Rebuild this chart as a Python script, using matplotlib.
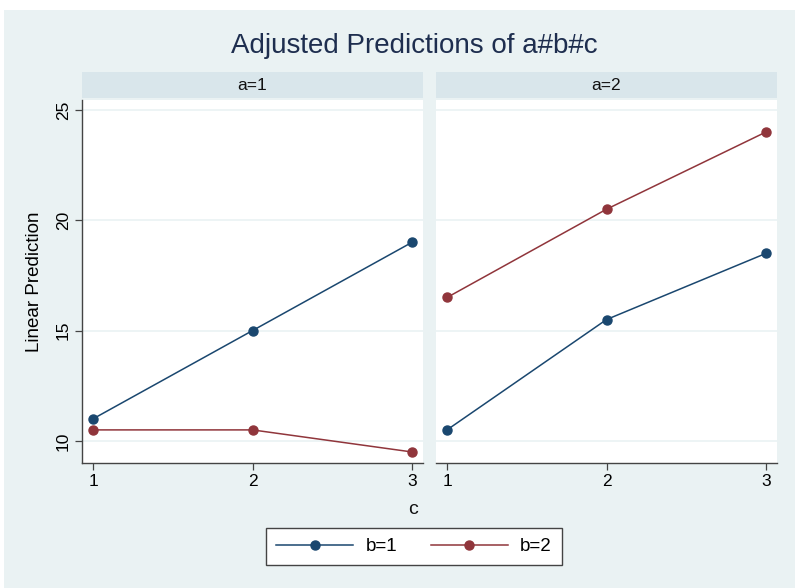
import matplotlib
matplotlib.use("Agg")
import matplotlib.pyplot as plt
from matplotlib.patches import Rectangle

plt.rcParams['font.family'] = ['Liberation Sans', 'DejaVu Sans']

c_vals = [1, 2, 3]
panels = ["a=1", "a=2"]
b1_a1 = [11.0, 15.0, 19.0]
b2_a1 = [10.5, 10.5, 9.5]
b1_a2 = [10.5, 15.5, 18.5]
b2_a2 = [16.5, 20.5, 24.0]
series_labels = ["b=1", "b=2"]
yticks = [10, 15, 20, 25]

navy = "#1a476f"
maroon = "#90353b"
bg = "#eaf2f3"
strip = "#d9e6eb"

W, H = 795, 588
fig = plt.figure(figsize=(W / 100, H / 100), dpi=100)
fig.patch.set_facecolor("white")
fig.patches.append(Rectangle((4 / W, 0), 1 - 4 / W, 1 - 10 / H, transform=fig.transFigure,
                             facecolor=bg, edgecolor="none", zorder=-10))

def fx(px):
    return px / W

def fy(py):
    return 1 - py / H

top, bottom = 100, 463
boxes = [(82, 423), (436, 777)]
data = [(b1_a1, b2_a1), (b1_a2, b2_a2)]
axes = []
for i, ((l, r), (s1, s2)) in enumerate(zip(boxes, data)):
    ax = fig.add_axes([fx(l), fy(bottom), fx(r - l), (bottom - top) / H])
    ax.set_facecolor("white")
    ax.set_xlim(0.931, 3.069)
    ax.set_ylim(9.0, 25.45)
    for y in yticks:
        ax.axhline(y, color=bg, lw=1.2, zorder=0)
    l1, = ax.plot(c_vals, s1, color=navy, lw=1.1, marker="o", ms=6.5, zorder=3)
    l2, = ax.plot(c_vals, s2, color=maroon, lw=1.1, marker="o", ms=6.5, zorder=3)
    for sp in ["top", "right"]:
        ax.spines[sp].set_visible(False)
    ax.spines["bottom"].set_color("#444444")
    ax.spines["bottom"].set_linewidth(1.0)
    ax.set_xticks(c_vals)
    ax.set_xticklabels([str(v) for v in c_vals], fontsize=12.5)
    ax.tick_params(axis="x", length=5, width=0.9, color="#444444", pad=3)
    if i == 0:
        ax.spines["left"].set_color("#444444")
        ax.spines["left"].set_linewidth(1.0)
        ax.set_yticks(yticks)
        ax.set_yticklabels([str(v) for v in yticks], fontsize=12.5, rotation=90, va="center")
        ax.tick_params(axis="y", length=5, width=0.9, color="#444444", pad=3)
        ax.set_ylabel("Linear Prediction", fontsize=13.5, labelpad=9)
    else:
        ax.spines["left"].set_visible(False)
        ax.set_yticks([])
    # strip
    fig.patches.append(Rectangle((fx(l), fy(98)), fx(r - l), 26 / H, transform=fig.transFigure,
                                 facecolor=strip, edgecolor="none"))
    fig.text(fx((l + r) / 2), fy(85), panels[i], ha="center", va="center", fontsize=12.5, color="#111111")
    axes.append((l1, l2))

fig.text(fx(414), fy(46), "Adjusted Predictions of a#b#c", ha="center", va="center",
         fontsize=20, color="#1e2e4f")
fig.text(fx(413), fy(510), "c", ha="center", va="center", fontsize=14, color="#111111")

leg = fig.legend(axes[0], series_labels, loc="center", bbox_to_anchor=(fx(414), fy(546.5)),
                 ncol=2, fontsize=13.5, frameon=True, fancybox=False, handlelength=4.1,
                 columnspacing=1.8, borderpad=0.55, handletextpad=0.65, borderaxespad=0)
leg.get_frame().set_edgecolor("#444444")
leg.get_frame().set_linewidth(1.0)
leg.get_frame().set_facecolor("white")
leg.get_frame().set_alpha(1)

fig.savefig("out.png", dpi=100, facecolor=fig.get_facecolor())
